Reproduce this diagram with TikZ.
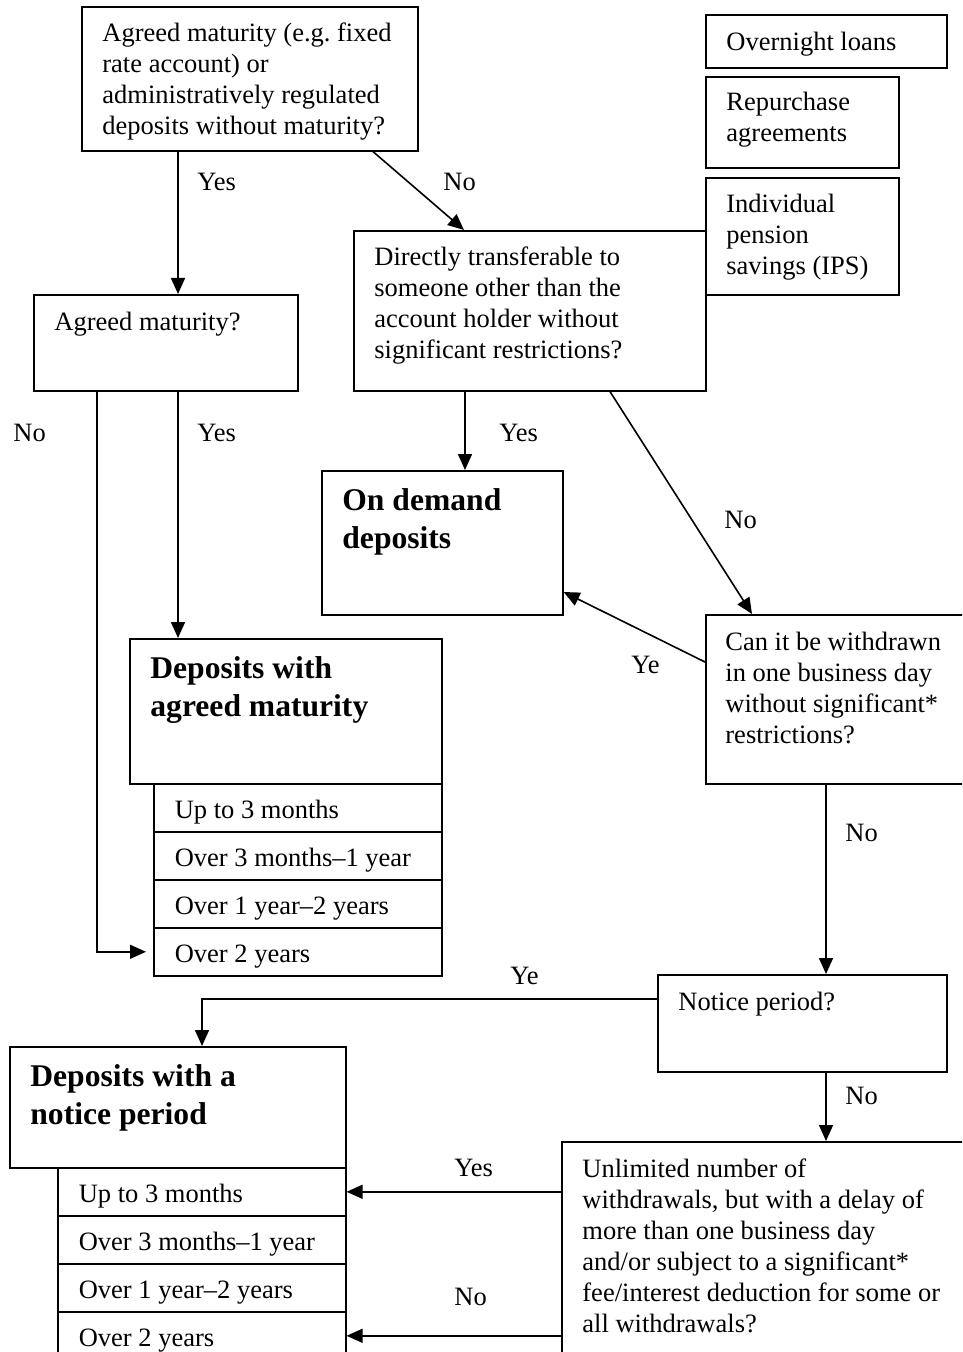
\documentclass[tikz,border=0pt]{standalone}
\usepackage{fontspec}
\setmainfont{Liberation Serif}
\usetikzlibrary{arrows.meta}
\begin{document}
\frenchspacing
\begin{tikzpicture}[x=0.5pt,y=-0.5pt,
  box/.style={draw,line width=0.8pt,rectangle,inner sep=0pt,anchor=north west},
  txt/.style={inner sep=0pt,anchor=north west,align=left,font=\fontsize{13.25}{15.5}\selectfont\frenchspacing},
  head/.style={inner sep=0pt,anchor=north west,align=left,font=\fontsize{15.8}{19}\selectfont\bfseries},
  lbl/.style={inner sep=0pt,anchor=base west,font=\fontsize{13.25}{15.5}\selectfont},
  row/.style={draw,line width=0.8pt,rectangle,anchor=north west,text width=123pt,
    inner xsep=10.5pt,inner ysep=0pt,text height=17.5pt,text depth=6.5pt,align=flush left,
    font=\fontsize{13.25}{15.5}\selectfont},
  arr/.style={line width=0.8pt,-{Triangle[length=8pt,width=7pt]}}]
\useasboundingbox (0,0) rectangle (962,1352);
\clip (0,0) rectangle (962,1352);

% boxes
\node[box,minimum width=168pt,minimum height=72pt] (A) at (81,6) {};
\node[box,minimum width=132pt,minimum height=48pt] (B) at (33,294) {};
\node[box,minimum width=176pt,minimum height=80pt] (C) at (353,230) {};
\node[box,minimum width=120.5pt,minimum height=26.5pt] (OL) at (705,14) {};
\node[box,minimum width=96.5pt,minimum height=45.5pt] (RA) at (705,76) {};
\node[box,minimum width=96.5pt,minimum height=58.5pt] (IPS) at (705,177) {};
\node[box,minimum width=120.5pt,minimum height=72pt] (O) at (321,470) {};
\node[box,minimum width=156pt,minimum height=72.5pt] (M) at (129,638) {};
\node[box,minimum width=132.5pt,minimum height=84.5pt] (D) at (705,614) {};
\node[box,minimum width=144.5pt,minimum height=48.5pt] (N) at (657,974) {};
\node[box,minimum width=168pt,minimum height=60.5pt] (P) at (9,1046) {};
\node[box,minimum width=207pt,minimum height=119.5pt] (U) at (561,1141) {};

% rows
\node[row] (M1) at (153,783) {Up to 3 months};
\node[row] (M2) at (153,831) {Over 3 months–1 year};
\node[row] (M3) at (153,879) {Over 1 year–2 years};
\node[row] (M4) at (153,927) {Over 2 years};
\node[row] (P1) at (57,1167) {Up to 3 months};
\node[row] (P2) at (57,1215) {Over 3 months–1 year};
\node[row] (P3) at (57,1263) {Over 1 year–2 years};
\node[row] (P4) at (57,1311) {Over 2 years};

% texts
\node[txt] (tA) at (102,19.3) {\strut Agreed maturity (e.g.\ fixed\\rate account) or\\administratively regulated\\deposits without maturity?};
\node[txt] (tB) at (54,308.3) {\strut Agreed maturity?};
\node[txt] (tC) at (374,243.3) {\strut Directly transferable to\\someone other than the\\account holder without\\significant restrictions?};
\node[txt] (tOL) at (726,28.3) {\strut Overnight loans};
\node[txt] (tRA) at (726,88.3) {\strut Repurchase\\agreements};
\node[txt] (tIPS) at (726,190.3) {\strut Individual\\pension\\savings (IPS)};
\node[head] (tO) at (342,483.4) {\strut On demand\\deposits};
\node[head] (tM) at (150,651.4) {\strut Deposits with\\agreed maturity};
\node[txt] (tD) at (725,628.3) {\strut Can it be withdrawn\\in one business day\\without significant*\\restrictions?};
\node[txt] (tN) at (678,988.3) {\strut Notice period?};
\node[head] (tP) at (30,1059.4) {\strut Deposits with a\\notice period};
\node[txt] (tU) at (582,1155.3) {\strut Unlimited number of\\withdrawals, but with a delay of\\more than one business day\\and/or subject to a significant*\\fee/interest deduction for some or\\all withdrawals?};

% labels
\node[lbl] (l1) at (197,191) {Yes};
\node[lbl] (l2) at (443,191) {No};
\node[lbl] (l3) at (13,441) {No};
\node[lbl] (l4) at (197,441) {Yes};
\node[lbl] (l5) at (499,441) {Yes};
\node[lbl] (l6) at (724,528) {No};
\node[lbl] (l7) at (631,673) {Ye};
\node[lbl] (l8) at (845,841) {No};
\node[lbl] (l9) at (510,984) {Ye};
\node[lbl] (l10) at (845,1104) {No};
\node[lbl] (l11) at (454,1176) {Yes};
\node[lbl] (l12) at (454,1305) {No};

% connectors
\coordinate (xAB) at (178,0);
\coordinate (cAC1) at (373,0);
\coordinate (cAC2) at (464,0);
\coordinate (xL) at (97,0);
\coordinate (xCO) at (465,0);
\coordinate (cCD1) at (610,0);
\coordinate (cCD2) at (752,0);
\coordinate (yDO1) at (0,662);
\coordinate (yDO2) at (0,592);
\coordinate (xDN) at (826,0);
\coordinate (yNP) at (0,999);
\coordinate (xNP) at (202,0);

\draw[arr] (A.south -| xAB) -- (B.north -| xAB);
\draw[arr] (A.south -| cAC1) -- (C.north -| cAC2);
\draw[arr] (B.south -| xAB) -- (M.north -| xAB);
\draw[arr,shorten >=3.5pt] (B.south -| xL) |- (M4.west);
\draw[arr] (C.south -| xCO) -- (O.north -| xCO);
\draw[arr] (C.south -| cCD1) -- (D.north -| cCD2);
\draw[arr] (D.west |- yDO1) -- (O.east |- yDO2);
\draw[arr] (D.south -| xDN) -- (N.north -| xDN);
\draw[arr] (N.west |- yNP) -| (P.north -| xNP);
\draw[arr] (N.south -| xDN) -- (U.north -| xDN);
\draw[arr] (U.west |- P1.east) -- (P1.east);
\draw[arr] (U.west |- P4.east) -- (P4.east);
\end{tikzpicture}
\end{document}
